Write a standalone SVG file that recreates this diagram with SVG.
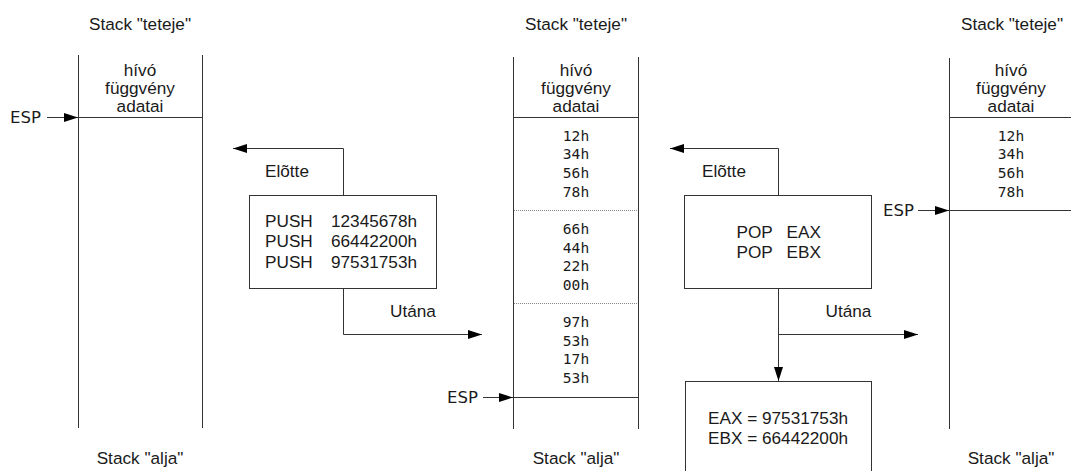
<svg xmlns="http://www.w3.org/2000/svg" width="1071" height="471" viewBox="0 0 1071 471">
<style>
.t{font-family:"Liberation Sans",Arial,sans-serif;font-size:17.2px;fill:#1a1a1a}
.m{font-family:"DejaVu Sans Mono",monospace;font-size:14.6px;fill:#1a1a1a}
.e{font-family:"DejaVu Sans",sans-serif;font-size:16.5px;fill:#1a1a1a}
.c{text-anchor:middle}
.ln{stroke:#333;stroke-width:1;fill:none}
.dt{stroke:#888;stroke-width:1;stroke-dasharray:1 1;fill:none}
.bx{stroke:#333;stroke-width:1;fill:#fff}
.ar{stroke:#333;stroke-width:1;fill:none;marker-end:url(#ah)}
</style>
<defs>
<marker id="ah" viewBox="0 0 14 9" refX="14" refY="4.5" markerWidth="14" markerHeight="9" markerUnits="userSpaceOnUse" orient="auto"><path d="M0,0 L14,4.5 L0,9 z" fill="#000"/></marker>
</defs>
<rect width="1071" height="471" fill="#fff"/>

<g id="stack1">
<text class="t c" x="140" y="30">Stack "teteje"</text>
<line class="ln" x1="78.5" y1="55" x2="78.5" y2="428"/>
<line class="ln" x1="202.5" y1="55" x2="202.5" y2="428"/>
<line class="ln" x1="78" y1="117.5" x2="203" y2="117.5"/>
<text class="t c" x="140" y="75.5">hívó</text>
<text class="t c" x="140" y="93.5">függvény</text>
<text class="t c" x="140" y="111.5">adatai</text>
<text class="t c" x="140" y="464">Stack "alja"</text>
</g>

<g id="stack2">
<text class="t c" x="576" y="30">Stack "teteje"</text>
<line class="ln" x1="513.5" y1="57" x2="513.5" y2="429"/>
<line class="ln" x1="638.5" y1="57" x2="638.5" y2="429"/>
<line class="ln" x1="513" y1="117.5" x2="639" y2="117.5"/>
<line class="dt" x1="514" y1="210.5" x2="638" y2="210.5"/>
<line class="dt" x1="514" y1="303.5" x2="638" y2="303.5"/>
<line class="ln" x1="513" y1="397.5" x2="639" y2="397.5"/>
<text class="t c" x="576" y="75.5">hívó</text>
<text class="t c" x="576" y="93.5">függvény</text>
<text class="t c" x="576" y="111.5">adatai</text>
<text class="m c" x="576" y="140.5">12h</text>
<text class="m c" x="576" y="159.2">34h</text>
<text class="m c" x="576" y="177.9">56h</text>
<text class="m c" x="576" y="196.6">78h</text>
<text class="m c" x="576" y="234">66h</text>
<text class="m c" x="576" y="252.7">44h</text>
<text class="m c" x="576" y="271.4">22h</text>
<text class="m c" x="576" y="290">00h</text>
<text class="m c" x="576" y="327">97h</text>
<text class="m c" x="576" y="345.7">53h</text>
<text class="m c" x="576" y="364.4">17h</text>
<text class="m c" x="576" y="383">53h</text>
<text class="t c" x="576" y="464">Stack "alja"</text>
</g>

<g id="stack3">
<text class="t c" x="1012" y="30">Stack "teteje"</text>
<line class="ln" x1="949.5" y1="58" x2="949.5" y2="429"/>
<line class="ln" x1="949" y1="117.5" x2="1071" y2="117.5"/>
<line class="ln" x1="949" y1="210.5" x2="1071" y2="210.5"/>
<text class="t c" x="1011" y="75.5">hívó</text>
<text class="t c" x="1011" y="93.5">függvény</text>
<text class="t c" x="1011" y="111.5">adatai</text>
<text class="m c" x="1011" y="140.5">12h</text>
<text class="m c" x="1011" y="159.2">34h</text>
<text class="m c" x="1011" y="177.9">56h</text>
<text class="m c" x="1011" y="196.6">78h</text>
<text class="t c" x="1011" y="464">Stack "alja"</text>
</g>

<g id="push">
<rect class="bx" x="249.5" y="195.5" width="187" height="93"/>
<text class="t" x="265" y="226.5">PUSH</text><text class="t" x="331" y="226.5">12345678h</text>
<text class="t" x="265" y="247">PUSH</text><text class="t" x="331" y="247">66442200h</text>
<text class="t" x="265" y="267.5">PUSH</text><text class="t" x="331" y="267.5">97531753h</text>
</g>

<g id="pop">
<rect class="bx" x="684.5" y="195.5" width="187" height="93"/>
<text class="t" x="736.5" y="238">POP</text><text class="t" x="786.5" y="238">EAX</text>
<text class="t" x="736.5" y="257.5">POP</text><text class="t" x="786.5" y="257.5">EBX</text>
</g>

<g id="result">
<rect class="bx" x="685.5" y="381.5" width="186" height="100"/>
<text class="t c" x="778" y="423.5">EAX = 97531753h</text>
<text class="t c" x="778" y="443.5">EBX = 66442200h</text>
</g>

<g id="connectors">
<path class="ar" d="M47,117.5 H78"/>
<text class="e" x="10" y="123">ESP</text>
<path class="ar" d="M483,397.5 H513"/>
<text class="e" x="447" y="403">ESP</text>
<path class="ar" d="M918,210.5 H949"/>
<text class="e" x="883" y="216">ESP</text>

<path class="ar" d="M343.5,195 V148.5 H233"/>
<text class="t" x="265" y="177">Elõtte</text>
<path class="ar" d="M343.5,288 V334.5 H482"/>
<text class="t" x="390" y="317">Utána</text>

<path class="ar" d="M778.5,195 V148.5 H670"/>
<text class="t" x="702" y="177">Elõtte</text>
<path class="ar" d="M778.5,334.5 H918"/>
<path class="ar" d="M778.5,288 V381"/>
<text class="t" x="825.5" y="317">Utána</text>
</g>
</svg>
